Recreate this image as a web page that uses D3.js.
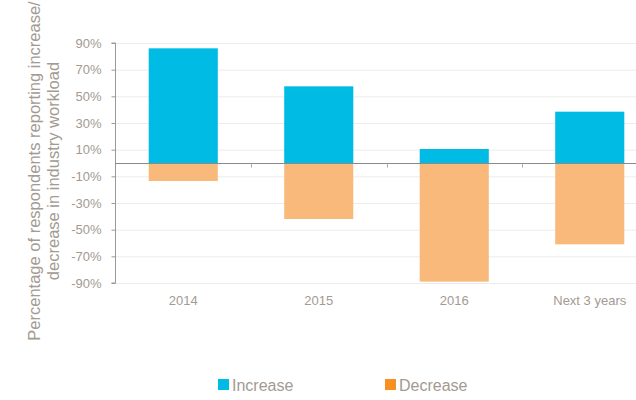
<!DOCTYPE html>
<html>
<head>
<meta charset="utf-8">
<script src="https://cdn.jsdelivr.net/npm/d3@7"></script>
<style>
  body { margin: 0; background: #fff; }
  text { font-family: "Liberation Sans", Arial, sans-serif; }
</style>
</head>
<body>
<div id="chart"></div>
<script>
const categories = ['2014', '2015', '2016', 'Next 3 years'];
const increase = [86, 57.5, 10.5, 38.5];
const decrease = [-13.5, -42, -89, -61];
const yTicks = [90, 70, 50, 30, 10, -10, -30, -50, -70, -90];

const width = 636;
const height = 400;
const textColor = '#a39a92';

const svg = d3.select('#chart')
  .append('svg')
  .attr('width', width)
  .attr('height', height);

// Scales
const x = d3.scaleBand()
  .domain(categories)
  .range([115.5, 657.5])
  .paddingInner(0.49)
  .paddingOuter(0.245);

const y = d3.scaleLinear()
  .domain([-90, 90])
  .range([283, 43]);

// Gridlines
svg.append('g')
  .selectAll('line')
  .data(yTicks)
  .enter()
  .append('line')
  .attr('x1', 115)
  .attr('x2', width)
  .attr('y1', d => y(d) + 0.5)
  .attr('y2', d => y(d) + 0.5)
  .attr('stroke', '#ececec')
  .attr('stroke-width', 1);

// Increase bars
svg.append('g')
  .selectAll('rect')
  .data(increase)
  .enter()
  .append('rect')
  .attr('x', (d, i) => x(categories[i]))
  .attr('width', x.bandwidth())
  .attr('y', d => y(d))
  .attr('height', d => y(0) - y(d))
  .attr('fill', '#00bce4');

// Decrease bars
svg.append('g')
  .selectAll('rect')
  .data(decrease)
  .enter()
  .append('rect')
  .attr('x', (d, i) => x(categories[i]))
  .attr('width', x.bandwidth())
  .attr('y', y(0))
  .attr('height', d => y(d) - y(0))
  .attr('fill', '#f8b97a');

// Y axis
const yAxis = svg.append('g')
  .attr('transform', 'translate(115.5,0)')
  .call(d3.axisLeft(y)
    .tickValues(yTicks)
    .tickFormat(d => d + '%')
    .tickSize(4)
    .tickPadding(10));
yAxis.select('.domain').attr('stroke', '#999').attr('d', `M-4,${y(90)}H0V${y(-90)}H-4`);
yAxis.selectAll('.tick line').attr('stroke', '#999');
yAxis.selectAll('.tick text')
  .attr('fill', textColor)
  .attr('font-size', 13);

// Zero line with category separators
const zeroY = y(0) + 0.5;
svg.append('line')
  .attr('x1', 115)
  .attr('x2', width)
  .attr('y1', zeroY)
  .attr('y2', zeroY)
  .attr('stroke', '#8a8a8a')
  .attr('stroke-width', 1);

svg.append('g')
  .selectAll('line')
  .data(categories.slice(1))
  .enter()
  .append('line')
  .attr('x1', d => Math.round(x(d) - x.step() * x.paddingInner() / 2) + 0.5)
  .attr('x2', d => Math.round(x(d) - x.step() * x.paddingInner() / 2) + 0.5)
  .attr('y1', zeroY)
  .attr('y2', zeroY + 4)
  .attr('stroke', '#aaa');

// X labels
svg.append('g')
  .selectAll('text')
  .data(categories)
  .enter()
  .append('text')
  .attr('x', d => x(d) + x.bandwidth() / 2)
  .attr('y', 305)
  .attr('text-anchor', 'middle')
  .attr('fill', textColor)
  .attr('font-size', 13)
  .text(d => d);

// Y axis title
const title = svg.append('text')
  .attr('transform', 'translate(40,171) rotate(-90)')
  .attr('text-anchor', 'middle')
  .attr('fill', textColor)
  .attr('font-size', 16.5);
title.append('tspan').attr('x', 0).attr('dy', 0)
  .text('Percentage of respondents reporting increase/');
title.append('tspan').attr('x', 0).attr('dy', 19)
  .text('decrease in industry workload');

// Legend
const legend = [
  { label: 'Increase', color: '#00bce4', x: 218 },
  { label: 'Decrease', color: '#f7901e', x: 385 }
];
const lg = svg.append('g')
  .selectAll('g')
  .data(legend)
  .enter()
  .append('g')
  .attr('transform', d => `translate(${d.x},379)`);
lg.append('rect')
  .attr('width', 11)
  .attr('height', 11)
  .attr('fill', d => d.color);
lg.append('text')
  .attr('x', 14)
  .attr('y', 11.5)
  .attr('fill', textColor)
  .attr('font-size', 16)
  .text(d => d.label);
</script>
</body>
</html>
